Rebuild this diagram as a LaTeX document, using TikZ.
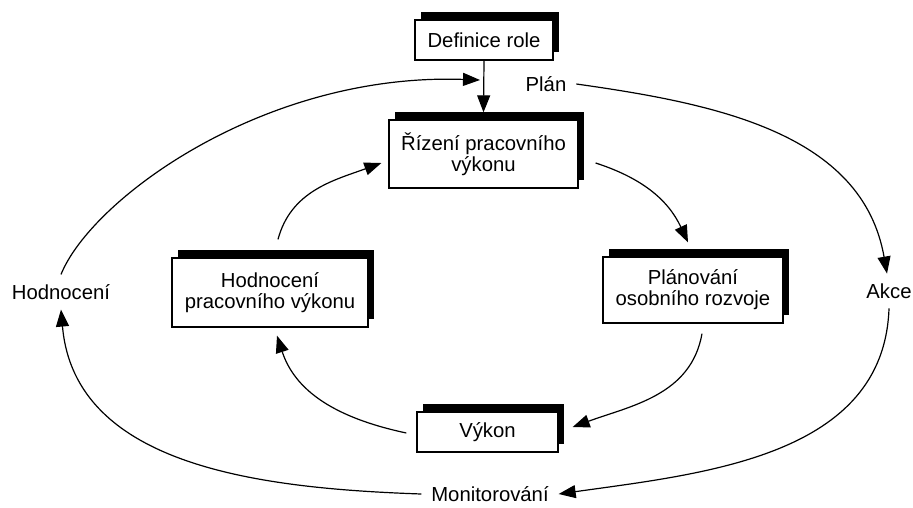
\documentclass[tikz,border=0pt]{standalone}
\usepackage{fontspec}
\setmainfont{Liberation Sans}
\usetikzlibrary{arrows.meta,shadows}
\begin{document}
\begin{tikzpicture}[x=1pt,y=1pt,
  font=\fontsize{20.3}{21}\selectfont,
  box/.style={draw, fill=white, line width=1.3pt, align=center, inner sep=0pt,
    drop shadow={opacity=1, fill=black, shadow xshift=6pt, shadow yshift=8pt}},
  lbl/.style={inner sep=0pt, outer sep=10pt},
  conn/.style={line width=1.2pt, -{Triangle[length=17pt,width=13pt]}}]
\useasboundingbox (0,0) rectangle (913,-507);
\fill[white] (0,0) rectangle (913,-507);
% boxes
\node[box, minimum width=138, minimum height=40] (def) at (484,-40) {Definice role};
\node[box, minimum width=189, minimum height=68] (riz) at (483.5,-154) {Řízení pracovního\\výkonu};
\node[box, minimum width=196, minimum height=69] (hod) at (270,-292.5) {Hodnocení\\pracovního výkonu};
\node[box, minimum width=180, minimum height=66] (plan) at (693,-290) {Plánování\\osobního rozvoje};
\node[box, minimum width=141, minimum height=40] (vyk) at (487.5,-432) {Výkon};
% labels
\node[lbl] (planL) at (546,-84) {Plán};
\node[lbl] (hodL) at (61,-292) {Hodnocení};
\node[lbl] (akceL) at (889,-291) {Akce};
\node[lbl] (monL) at (490,-494) {Monitorování};
\coordinate (join) at (480,-80);
% vertical
\draw[conn] (def.south) -- ([yshift=7pt]riz.north);
% outer loop
\draw[conn] (hodL.north) to[out=68, in=178, out looseness=0.45, in looseness=1.2] (join);
\draw[conn] (planL.east) to[out=-8, in=100] ([xshift=-2pt]akceL.north);
\draw[conn] (akceL.south) to[out=-92, in=8] (monL.east);
\draw[conn] (monL.west) to[out=178, in=-85] (hodL.south);
% inner loop
\draw[conn] ([shift={(17pt,-9pt)}]riz.east) to[out=-18, in=115] ([shift={(-5pt,14pt)}]plan.north);
\draw[conn] ([shift={(9pt,-10pt)}]plan.south) to[out=-100, in=20] ([shift={(14pt,5pt)}]vyk.east);
\draw[conn] ([shift={(-10pt,-1pt)}]vyk.west) to[out=168, in=-72] ([shift={(7pt,-8pt)}]hod.south);
\draw[conn] ([shift={(8pt,18pt)}]hod.north) to[out=75, in=200] ([shift={(-7pt,-9pt)}]riz.west);
\end{tikzpicture}
\end{document}
